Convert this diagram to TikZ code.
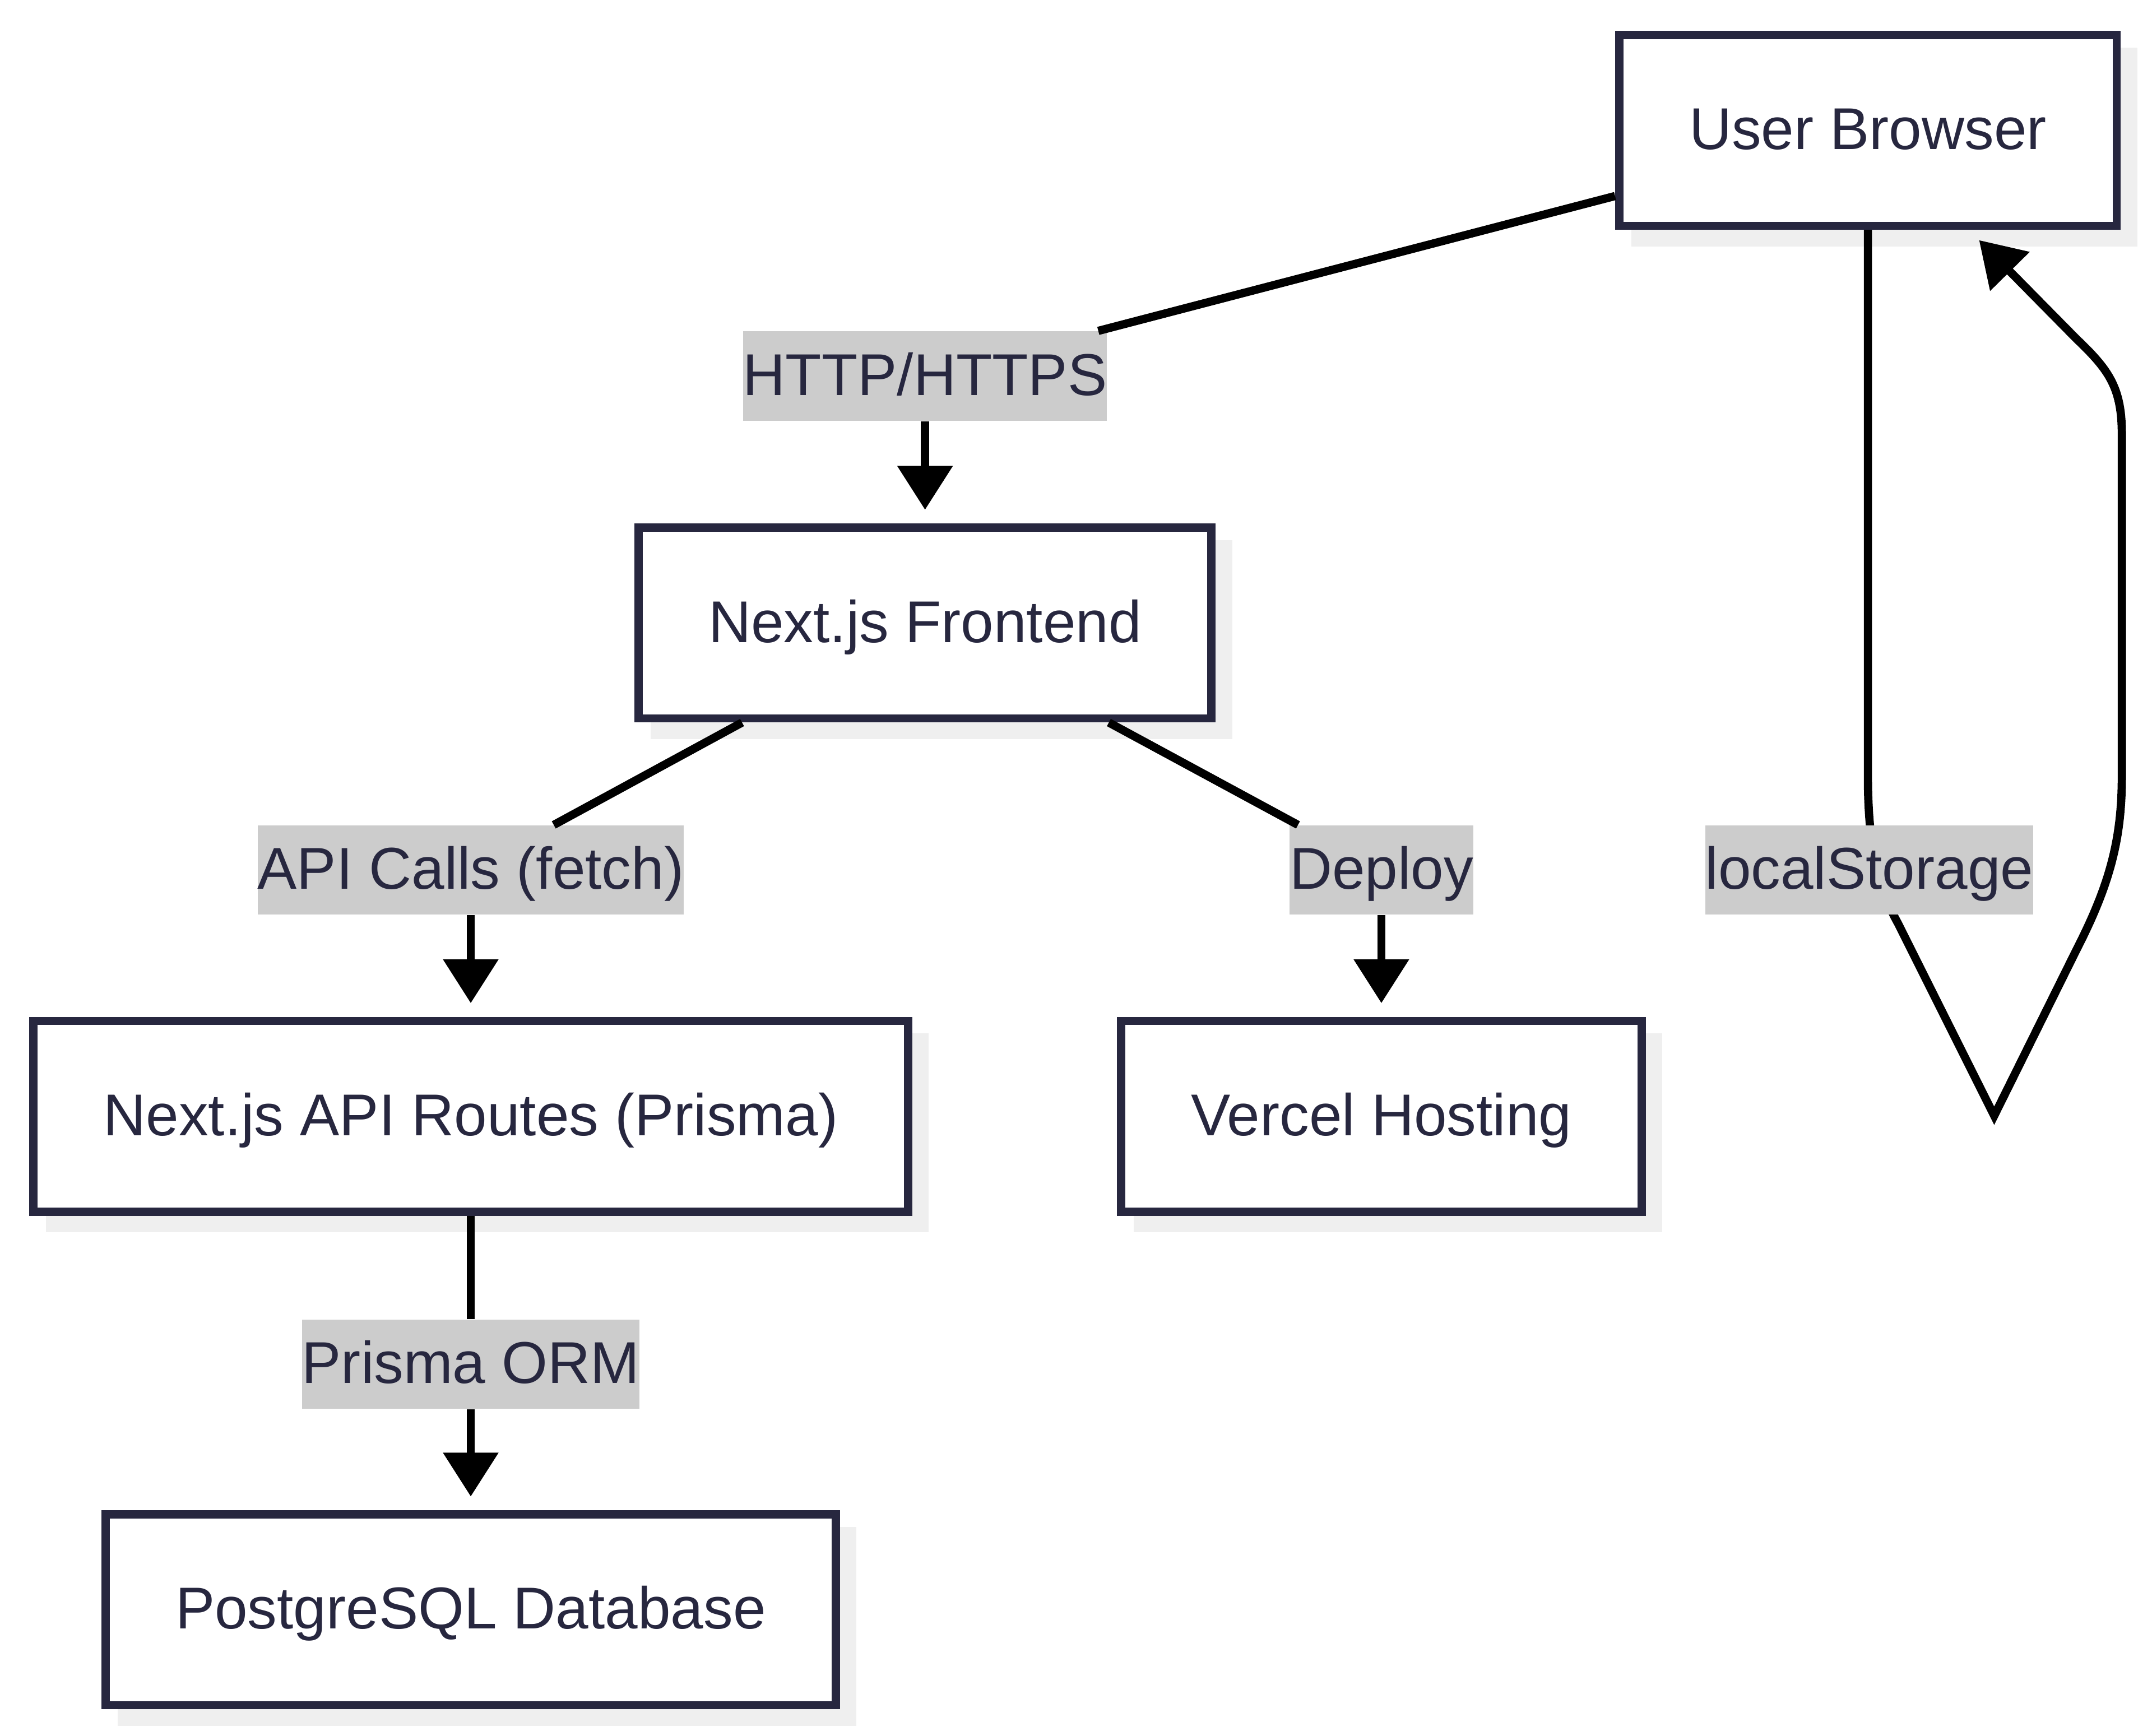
\documentclass[tikz,border=0pt]{standalone}
\usepackage{fontspec}
\setmainfont{Liberation Sans}
\usetikzlibrary{arrows.meta,shadows,calc}
\definecolor{ink}{HTML}{27273F}
\definecolor{lblgray}{HTML}{CCCCCC}
\definecolor{shade}{HTML}{EFEFEF}

\begin{document}
\begin{tikzpicture}[x=0.5pt,y=-0.5pt,
  box/.style={draw=ink,line width=3pt,fill=white,text=ink,
    minimum height=69.5pt,inner xsep=25.5pt,
    text height=15.5pt,text depth=1.5pt,
    font=\fontsize{21.5pt}{26pt}\selectfont,
    general shadow={fill=shade,draw=shade,line width=3pt,
      shadow xshift=6pt,shadow yshift=-6pt}},
  lbl/.style={fill=lblgray,text=ink,inner sep=0pt,minimum height=32.5pt,
    text height=15.5pt,text depth=1.5pt,
    font=\fontsize{21.5pt}{26pt}\selectfont},
  link/.style={line width=3pt},
  tip/.style={-{Triangle[width=19.5pt,length=16pt]}},
  flow/.style={link,tip,shorten >=5pt}]

\useasboundingbox (0,0) rectangle (1568,1265);

\node[box] (ub)  at (1361,  95) {User Browser};
\node[box] (fe)  at ( 674, 454) {Next.js Frontend};
\node[box] (api) at ( 343, 813.5) {Next.js API Routes (Prisma)};
\node[box] (vh)  at (1006.5, 813.5) {Vercel Hosting};
\node[box] (db)  at ( 343,1173) {PostgreSQL Database};

% self loop on the browser, left leg runs under the label
\coordinate (loopEnd) at (1442,175);
\draw[link,tip] (ub.south) -- (1361,566)
   .. controls (1361,618) and (1369,648) .. (1383,673) -- (1453,813)
   -- (1513,692) .. controls (1537,645) and (1546,612) .. (1546,566)
   -- (1546,316) .. controls (1546,282) and (1536,269) .. (1513,247)
   -- (loopEnd);

\node[lbl] (lhttp) at ( 674, 274) {HTTP/HTTPS};
\node[lbl] (lapi)  at ( 343, 634) {API Calls (fetch)};
\node[lbl] (ldep)  at (1006.5, 634) {Deploy};
\node[lbl] (lloc)  at (1362, 634) {localStorage};
\node[lbl] (lorm)  at ( 343, 994) {Prisma ORM};

\draw[link] (ub) -- (lhttp);
\draw[flow] (lhttp) -- (fe);
\draw[link] (fe) -- (lapi);
\draw[flow] (lapi) -- (api);
\draw[link] (fe) -- (ldep);
\draw[flow] (ldep) -- (vh);
\draw[link] (api) -- (lorm);
\draw[flow] (lorm) -- (db);

\end{tikzpicture}
\end{document}
